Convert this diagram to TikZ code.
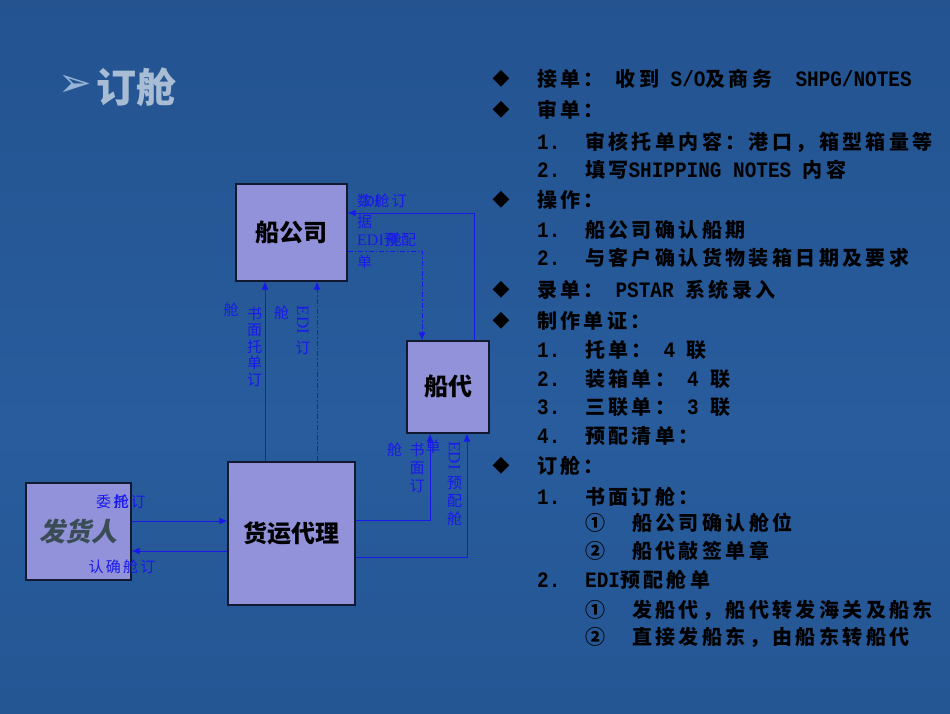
\documentclass[tikz,border=0pt]{standalone}
\usepackage{fontspec}
\usetikzlibrary{arrows.meta}
\newfontfamily\cjk[LetterSpace=17]{Noto Sans CJK SC}
\newfontfamily\cjkl[LetterSpace=15]{Noto Sans CJK SC}
\newfontfamily\cjkb{Noto Sans CJK SC}
\newfontfamily\cjksl[FakeSlant=0.2]{Noto Sans CJK SC}
\newfontfamily\latm[FakeStretch=0.88]{Liberation Mono}
\newfontfamily\latl{Liberation Serif}
\newfontfamily\dejav{DejaVu Sans}
\newcommand\mL[1]{{\latm\bfseries\fontsize{22}{24}\selectfont #1}}
\definecolor{bgtop}{RGB}{20,48,92}
\definecolor{bgmid}{RGB}{40,92,156}
\definecolor{bgmidb}{RGB}{34,80,140}
\definecolor{bgbot}{RGB}{24,60,110}
\definecolor{boxfill}{RGB}{146,146,218}
\definecolor{boxline}{RGB}{20,25,50}
\definecolor{lblue}{RGB}{25,25,235}
\definecolor{ttl}{RGB}{168,188,212}
\definecolor{arw}{RGB}{150,180,215}
\definecolor{fhtext}{RGB}{58,76,86}
\pgfdeclareverticalshading{bgshade}{100bp}{color(0bp)=(bgbot); color(6bp)=(bgmidb); color(45bp)=(bgmid); color(86bp)=(bgmidb); color(94bp)=(bgtop); color(100bp)=(bgtop)}
\begin{document}
\begin{tikzpicture}[x=1pt,y=-1pt,
  box/.style={draw=boxline, line width=1.2pt, fill=boxfill, inner sep=0pt, text=black, font=\cjkb\bfseries\fontsize{24}{26}\selectfont},
  conn/.style={draw=lblue, line width=1pt, -{Latex[length=8pt,width=7pt]}},
  dashdot/.style={dash pattern=on 5pt off 2pt on 1.5pt off 2pt},
  lbl/.style={text=lblue, inner sep=0pt, font=\cjkb\fontsize{15}{17}\selectfont},
  hlbl/.style={text=lblue, inner sep=0pt, font=\cjkl\fontsize{15}{17}\selectfont},
  latlbl/.style={text=lblue, inner sep=0pt, font=\latl\fontsize{17}{19}\selectfont},
  vlbl/.style={text=lblue, inner sep=0pt, align=center},
  li/.style={inner sep=0pt, text=black, anchor=base west, font=\cjk\bfseries\fontsize{20}{24}\selectfont},
  bul/.style={inner sep=0pt, text=black, font=\dejav\fontsize{22}{24}\selectfont}
]
\useasboundingbox (0,0) rectangle (950,713);
\shade[shading=bgshade] (0,0) rectangle (950,713);

% title
\node[inner sep=0pt, text=arw, font=\dejav\fontsize{40}{42}\selectfont] (tarrow) at (75,86) {➢};
\node[inner sep=0pt, text=ttl, font=\cjkb\bfseries\fontsize{40}{42}\selectfont] (ttext) at (136,87) {订舱};

% boxes
\node[box, minimum width=111pt, minimum height=97pt] (sc) at (291.5,232.5) {船公司};
\node[box, minimum width=82pt, minimum height=92pt] (cd) at (448,387) {船代};
\node[box, minimum width=127pt, minimum height=143pt] (hy) at (291.5,533.5) {货运代理};
\node[box, minimum width=105pt, minimum height=97pt, text=fhtext, font=\cjksl\bfseries\fontsize{26}{28}\selectfont] (fh) at (78.5,531.5) {发货人};

% helper coordinates
\coordinate (xa) at (265,0);
\coordinate (xb) at (317,0);
\coordinate (xc) at (474,0);
\coordinate (xd) at (422,0);
\coordinate (xe) at (430,0);
\coordinate (xf) at (467,0);
\coordinate (ya) at (0,213);
\coordinate (yb) at (0,251);
\coordinate (yc) at (0,520);
\coordinate (yd) at (0,557);
\coordinate (ye) at (0,521);
\coordinate (yf) at (0,551);

% connectors
\draw[conn] (hy.north -| xa) -- (sc.south -| xa);
\draw[conn,dashdot] (hy.north -| xb) -- (sc.south -| xb);
\draw[conn] (cd.north -| xc) |- (sc.east |- ya);
\draw[conn,dashdot] (sc.east |- yb) -| (cd.north -| xd);
\draw[conn] (hy.east |- yc) -| (cd.south -| xe);
\draw[conn] (hy.east |- yd) -| (cd.south -| xf);
\draw[conn] (fh.east |- ye) -- (hy.west |- ye);
\draw[conn] (hy.west |- yf) -- (fh.east |- yf);

% labels near 船公司
\node[hlbl, anchor=west] (s1) at (357,201) {数舱订};
\node[latlbl, anchor=west, font=\latl\fontsize{16}{18}\selectfont] (s1b) at (363,201) {DI};
\node[lbl, anchor=west] (s2) at (357,222) {据};
\node[hlbl, anchor=west] (s3) at (357,240) {{\latl\fontsize{16}{18}\selectfont EDI}预配};
\node[lbl, anchor=west] (s3b) at (387,240) {舱};
\node[lbl, anchor=west] (s4) at (357,262) {单};

% labels on 货运代理 -> 船公司
\node[lbl] (v0) at (231,310) {舱};
\node[vlbl, font=\cjkb\fontsize{15}{16.6}\selectfont] (v1) at (254.5,346.5) {书\\面\\托\\单\\订};
\node[lbl] (v2) at (281.5,313) {舱};
\node[latlbl, rotate=-90] (v3) at (303,320) {EDI};
\node[lbl] (v4) at (303,348) {订};

% labels on 货运代理 -> 船代
\node[lbl] (u0) at (394.5,450) {舱};
\node[vlbl, font=\cjkb\fontsize{15}{18}\selectfont] (u1) at (417,468) {书\\面\\订};
\node[lbl] (u2) at (433,447) {单};
\node[latlbl, rotate=-90] (u3) at (454.5,455.5) {EDI};
\node[vlbl, font=\cjkb\fontsize{15}{18}\selectfont] (u4) at (454.5,501) {预\\配\\舱};

% labels near 发货人
\node[hlbl, anchor=west] (w1) at (96,502) {委托订};
\node[lbl, anchor=west] (w2) at (114,502) {舱};
\node[hlbl] (q1) at (122,567) {认确舱订};

% right list: bullets
\node[bul] (b1) at (501,79) {◆};
\node[bul] (b2) at (501,110) {◆};
\node[bul] (b3) at (501,200) {◆};
\node[bul] (b4) at (501,290) {◆};
\node[bul] (b5) at (501,321) {◆};
\node[bul] (b6) at (501,466) {◆};

% right list: text
\node[li] (r1) at (537,86.6) {接单：\mL{ }收到\mL{\ S/O}及商务\mL{\ \ SHPG/NOTES}};
\node[li] (r2) at (537,117.6) {审单：};
\node[li] (n3) at (537,149.6) {\mL{1.}};
\node[li] (r3) at (585,149.6) {审核托单内容：港口，箱型箱量等};
\node[li] (n4) at (537,177.6) {\mL{2.}};
\node[li] (r4) at (585,177.6) {填写\mL{SHIPPING NOTES }内容};
\node[li] (r5) at (537,207.6) {操作：};
\node[li] (n6) at (537,237.6) {\mL{1.}};
\node[li] (r6) at (585,237.6) {船公司确认船期};
\node[li] (n7) at (537,265.6) {\mL{2.}};
\node[li] (r7) at (585,265.6) {与客户确认货物装箱日期及要求};
\node[li] (r8) at (537,297.6) {录单：\mL{ PSTAR }系统录入};
\node[li] (r9) at (537,328.6) {制作单证：};
\node[li] (n10) at (537,357.6) {\mL{1.}};
\node[li] (r10) at (585,357.6) {托单：\mL{ 4 }联};
\node[li] (n11) at (537,386.6) {\mL{2.}};
\node[li] (r11) at (585,386.6) {装箱单：\mL{ 4 }联};
\node[li] (n12) at (537,414.6) {\mL{3.}};
\node[li] (r12) at (585,414.6) {三联单：\mL{ 3 }联};
\node[li] (n13) at (537,443.6) {\mL{4.}};
\node[li] (r13) at (585,443.6) {预配清单：};
\node[li] (r14) at (537,473.6) {订舱：};
\node[li] (n15) at (537,504.6) {\mL{1.}};
\node[li] (r15) at (585,504.6) {书面订舱：};
\node[li] (c16) at (585,530.6) {①};
\node[li] (r16) at (632,530.6) {船公司确认舱位};
\node[li] (c17) at (585,558.6) {②};
\node[li] (r17) at (632,558.6) {船代敲签单章};
\node[li] (n18) at (537,587.6) {\mL{2.}};
\node[li] (r18) at (585,587.6) {\mL{EDI}预配舱单};
\node[li] (c19) at (585,617.6) {①};
\node[li] (r19) at (632,617.6) {发船代，船代转发海关及船东};
\node[li] (c20) at (585,644.6) {②};
\node[li] (r20) at (632,644.6) {直接发船东，由船东转船代};
\end{tikzpicture}
\end{document}
